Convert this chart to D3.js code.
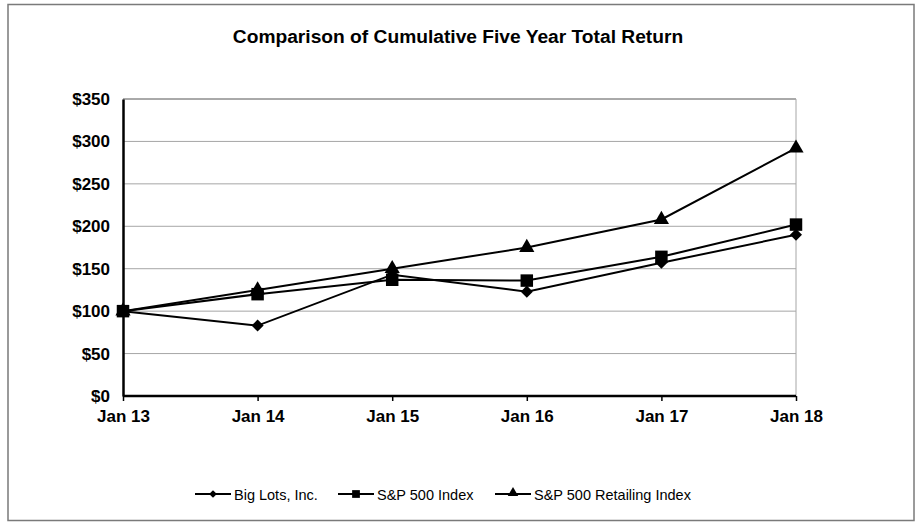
<!DOCTYPE html>
<html>
<head>
<meta charset="utf-8">
<script src="https://cdn.jsdelivr.net/npm/d3@7/dist/d3.min.js"></script>
<style>
  html, body { margin: 0; padding: 0; background: #fff; }
  svg { display: block; font-family: "Liberation Sans", Arial, sans-serif; }
</style>
</head>
<body>
<svg id="chart" width="919" height="523"></svg>
<script>
const categories = ["Jan 13", "Jan 14", "Jan 15", "Jan 16", "Jan 17", "Jan 18"];
const bigLots = [100, 83, 143, 123, 157, 190];
const sp500 = [100, 120, 137, 136, 164, 202];
const spRetailing = [100, 125, 150, 175, 208, 292];
const yTicks = [0, 50, 100, 150, 200, 250, 300, 350];
const seriesNames = ["Big Lots, Inc.", "S&P 500 Index", "S&P 500 Retailing Index"];
const seriesSymbols = ["diamond", "square", "triangle"];
const seriesValues = [bigLots, sp500, spRetailing];

(function () {
const svg = d3.select("#chart");

// outer border
svg.append("rect").attr("x", 8).attr("y", 4.5).attr("width", 906).attr("height", 516)
  .attr("fill", "none").attr("stroke", "#7a7a7a").attr("stroke-width", 1.5);

// title
svg.append("text").attr("x", 458).attr("y", 43).attr("text-anchor", "middle")
  .attr("font-size", 19.2).attr("font-weight", "bold").attr("fill", "#000")
  .text("Comparison of Cumulative Five Year Total Return");

const pL = 123, pR = 796, pT = 99, pB = 396;
const x = d3.scalePoint().domain(categories).range([pL, pR]);
const y = d3.scaleLinear().domain([0, 350]).range([pB, pT]);

// gridlines
svg.append("g").selectAll("line").data(yTicks.filter(d => d > 0 && d < 350)).join("line")
  .attr("x1", pL).attr("x2", pR).attr("y1", d => y(d)).attr("y2", d => y(d))
  .attr("stroke", "#a6a6a6").attr("stroke-width", 1);

// plot frame top & right
svg.append("line").attr("x1", pL).attr("x2", pR).attr("y1", pT).attr("y2", pT)
  .attr("stroke", "#555").attr("stroke-width", 1);
svg.append("line").attr("x1", pR).attr("x2", pR).attr("y1", pT).attr("y2", pB)
  .attr("stroke", "#a6a6a6").attr("stroke-width", 1);

// y axis
const yAxis = d3.axisLeft(y).tickValues(yTicks).tickSize(0).tickPadding(13).tickFormat(d => "$" + d);
const gy = svg.append("g").attr("transform", `translate(${pL},0)`).call(yAxis);
gy.select(".domain").attr("stroke", "#000").attr("stroke-width", 2.5);
gy.selectAll("text").attr("font-size", 17).attr("font-weight", "bold").attr("fill", "#000")
  .attr("font-family", "Liberation Sans, Arial, sans-serif");

// x axis
const xAxis = d3.axisBottom(x).tickSize(5).tickPadding(9);
const gx = svg.append("g").attr("transform", `translate(0,${pB})`).call(xAxis);
gx.select(".domain").attr("stroke", "#000").attr("stroke-width", 2.5).attr("d", `M${pL},0H${pR}`);
gx.selectAll(".tick line").attr("stroke", "#000").attr("stroke-width", 1.5);
gx.selectAll("text").attr("font-size", 17).attr("font-weight", "bold").attr("fill", "#000")
  .attr("font-family", "Liberation Sans, Arial, sans-serif");

// lines & markers
const line = d3.line().x((d, i) => x(categories[i])).y(d => y(d));
const symType = { diamond: d3.symbolDiamond2, square: d3.symbolSquare, triangle: d3.symbolTriangle };
const symSize = { diamond: 92, square: 156, triangle: 100 };
const legSize = { diamond: 38, square: 60, triangle: 48 };

seriesValues.forEach((vals) => {
  svg.append("path").datum(vals).attr("d", line).attr("fill", "none")
    .attr("stroke", "#000").attr("stroke-width", 2);
});
seriesValues.forEach((vals, k) => {
  const s = seriesSymbols[k];
  svg.append("g").selectAll("path").data(vals).join("path")
    .attr("transform", (d, i) => `translate(${x(categories[i])},${y(d)})`)
    .attr("d", d3.symbol().type(symType[s]).size(symSize[s]))
    .attr("fill", "#000");
});

// legend
const legX = [195, 338, 495];
const legY = 494;
seriesNames.forEach((name, k) => {
  const s = seriesSymbols[k];
  const g = svg.append("g").attr("transform", `translate(${legX[k]},${legY})`);
  g.append("line").attr("x1", 0).attr("x2", 36).attr("y1", 0).attr("y2", 0)
    .attr("stroke", "#000").attr("stroke-width", 2);
  g.append("path").attr("transform", `translate(18,${s === "triangle" ? -1 : 0})`)
    .attr("d", d3.symbol().type(symType[s]).size(legSize[s])).attr("fill", "#000");
  g.append("text").attr("x", 39).attr("y", 5.5).attr("font-size", 14.5).attr("fill", "#000")
    .text(name);
});
})();
</script>
</body>
</html>
